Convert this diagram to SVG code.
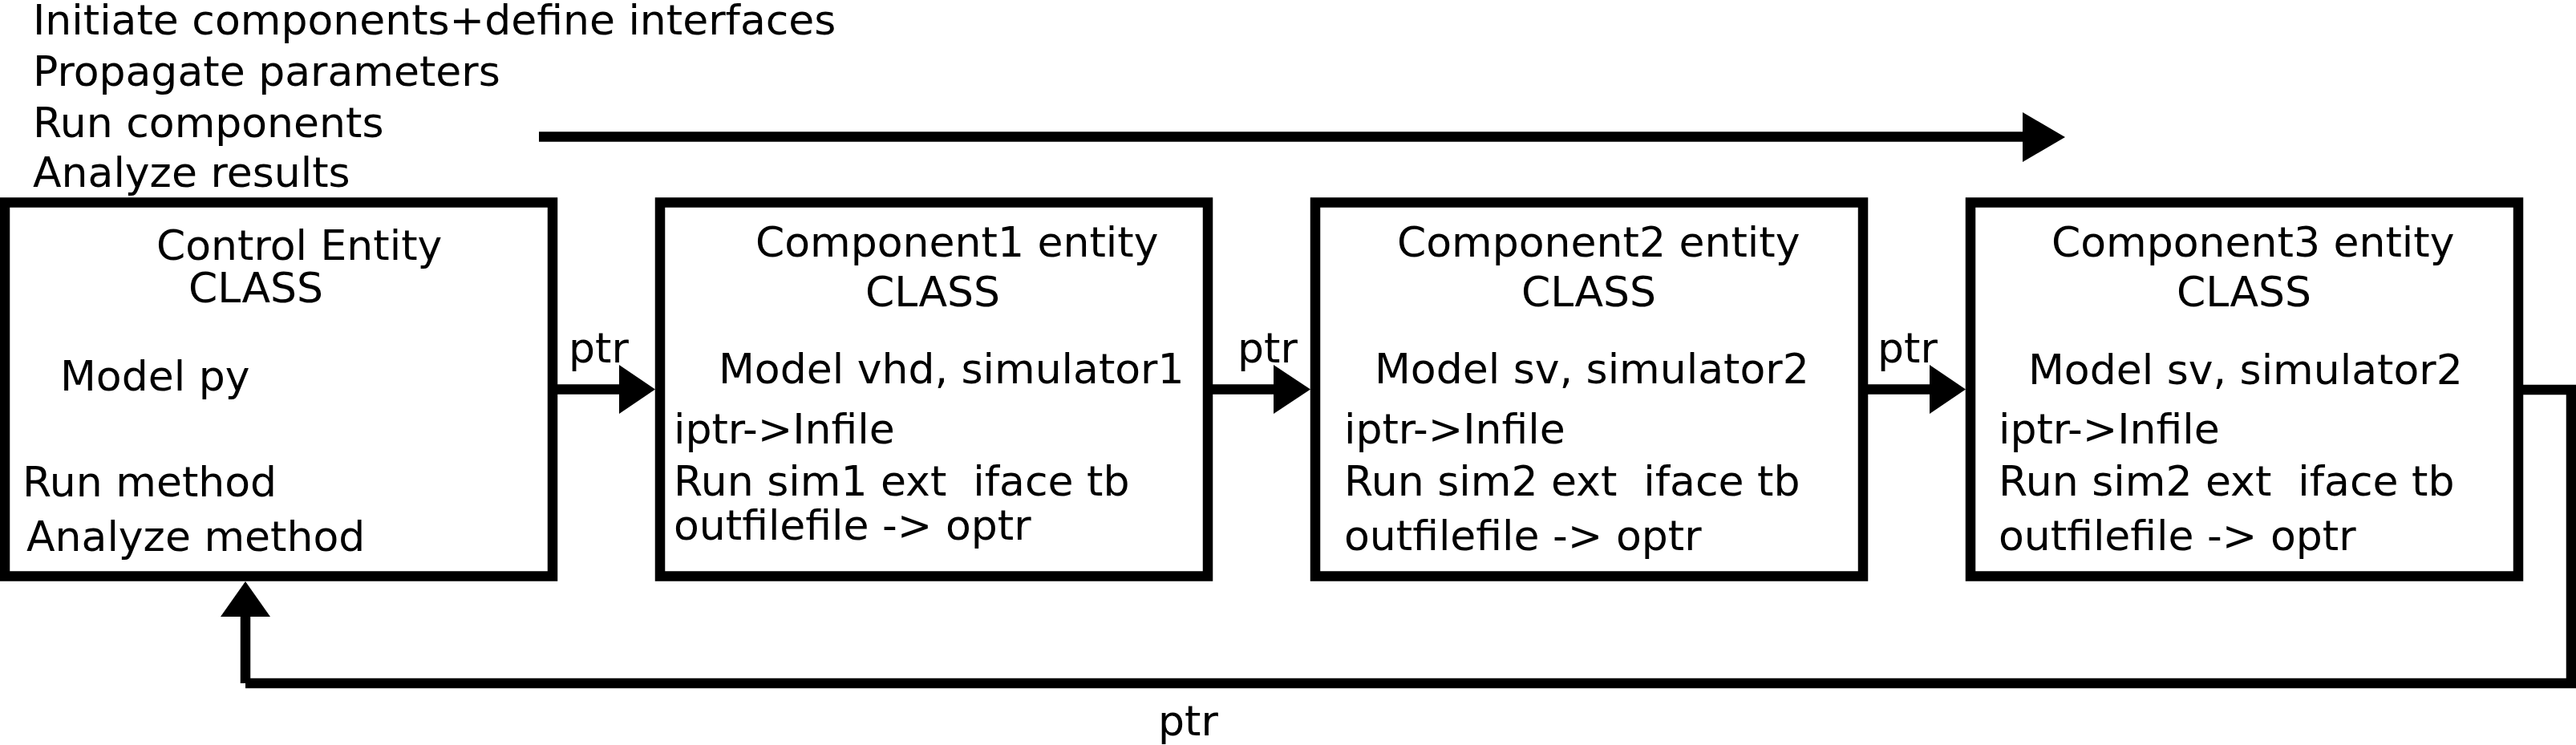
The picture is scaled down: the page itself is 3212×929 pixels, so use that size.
<svg xmlns="http://www.w3.org/2000/svg" width="3212" height="929" viewBox="0 0 3212 929">
<style>
text{font-family:"DejaVu Sans","Liberation Sans",sans-serif;font-size:52px;fill:#000;white-space:pre}
.box{fill:#fff;stroke:#000;stroke-width:12.5}
.ln{fill:none;stroke:#000;stroke-width:12.5;stroke-linecap:butt;stroke-linejoin:miter}
.hd{fill:#000;stroke:none}
</style>
<rect width="3212" height="929" fill="#fff"/>
<g id="steps">
<text x="41" y="43">Initiate components+define interfaces</text>
<text x="41" y="107">Propagate parameters</text>
<text x="41" y="171">Run components</text>
<text x="41" y="233">Analyze results</text>
</g>
<g id="control">
<rect class="box" x="6" y="252.5" width="683" height="466"/>
<text x="195" y="324">Control Entity</text>
<text x="235" y="377">CLASS</text>
<text x="75" y="487">Model py</text>
<text x="28" y="619">Run method</text>
<text x="33" y="687">Analyze method</text>
</g>
<g id="component1">
<rect class="box" x="823" y="252.5" width="683" height="466"/>
<text x="942" y="320">Component1 entity</text>
<text x="1079" y="382">CLASS</text>
<text x="896" y="478">Model vhd, simulator1</text>
<text x="840" y="553">iptr-&gt;Infile</text>
<text x="840" y="618" xml:space="preserve">Run sim1 ext  iface tb</text>
<text x="840" y="673">outfilefile -&gt; optr</text>
</g>
<g id="component2">
<rect class="box" x="1640" y="252.5" width="683" height="466"/>
<text x="1742" y="320">Component2 entity</text>
<text x="1897" y="382">CLASS</text>
<text x="1714" y="478">Model sv, simulator2</text>
<text x="1676" y="553">iptr-&gt;Infile</text>
<text x="1676" y="618" xml:space="preserve">Run sim2 ext  iface tb</text>
<text x="1676" y="686">outfilefile -&gt; optr</text>
</g>
<g id="component3">
<rect class="box" x="2457" y="252.5" width="683" height="466"/>
<text x="2558" y="320">Component3 entity</text>
<text x="2714" y="382">CLASS</text>
<text x="2529" y="479">Model sv, simulator2</text>
<text x="2492" y="553">iptr-&gt;Infile</text>
<text x="2492" y="618" xml:space="preserve">Run sim2 ext  iface tb</text>
<text x="2492" y="686">outfilefile -&gt; optr</text>
</g>
<g id="connectors">
<line class="ln" x1="672" y1="170.5" x2="2523" y2="170.5"/>
<polygon class="hd" points="2522,140 2575,171 2522,202"/>
<line class="ln" x1="695" y1="485.5" x2="773" y2="485.5"/>
<polygon class="hd" points="772,455 817,485.5 772,516"/>
<text x="709" y="452">ptr</text>
<line class="ln" x1="1512" y1="485.5" x2="1589" y2="485.5"/>
<polygon class="hd" points="1588,455 1634,485.5 1588,516"/>
<text x="1543" y="452">ptr</text>
<line class="ln" x1="2329" y1="485.5" x2="2407" y2="485.5"/>
<polygon class="hd" points="2406,455 2451,485.5 2406,516"/>
<text x="2341" y="452">ptr</text>
<polyline class="ln" points="3146,486 3206,486 3206,852 306,852"/>
<line class="ln" x1="306" y1="852" x2="306" y2="768"/>
<polygon class="hd" points="275,769 306,725 337,769"/>
<text x="1444" y="917">ptr</text>
</g>
</svg>
